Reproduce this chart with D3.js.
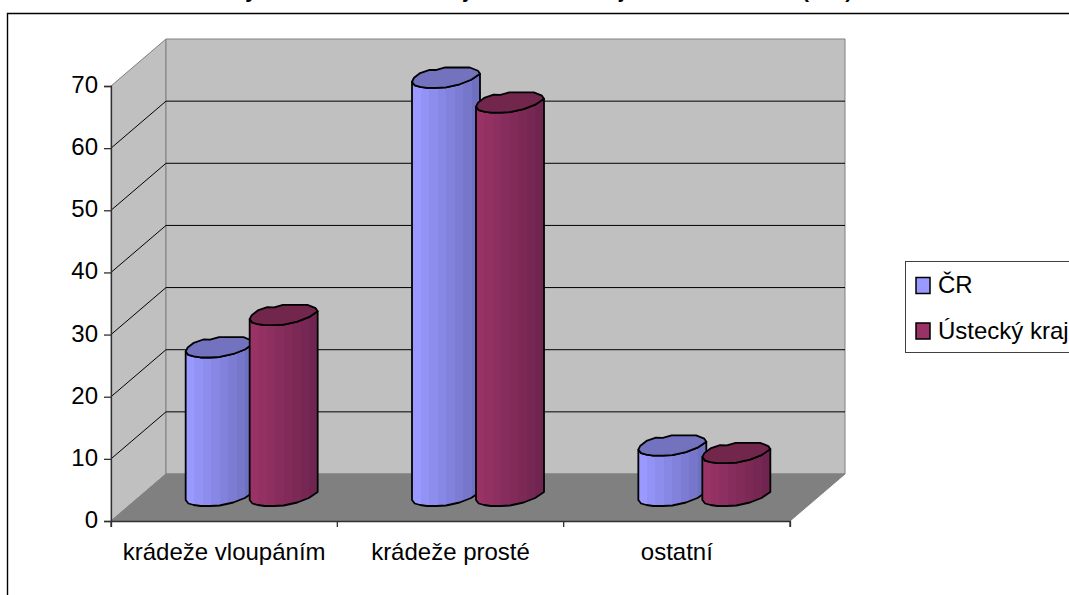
<!DOCTYPE html>
<html><head><meta charset="utf-8">
<script src="https://cdn.jsdelivr.net/npm/d3@7"></script>
<style>html,body{margin:0;padding:0;background:#fff;overflow:hidden}svg{display:block}text{font-family:"Liberation Sans",Arial,sans-serif;fill:#000}</style>
</head><body><svg id="c" width="1069" height="595"></svg>
<script>
const categories = ["krádeže vloupáním", "krádeže prosté", "ostatní"];
const seriesNames = ["ČR", "Ústecký kraj"];
const valuesCR = [23.9, 67.3, 8.1];
const valuesUK = [29.1, 63.3, 6.9];
const yTicks = [0, 10, 20, 30, 40, 50, 60, 70];
const colors = [
  {light: "#9999FF", dark: "#7070C2", top: "#7272BF"},
  {light: "#993366", dark: "#702550", top: "#72264C"}
];

const svg = d3.select("#c");
const depthX = 55, depthY = 47;
const x = d3.scaleBand().domain(categories).range([111, 790]);
const y = d3.scaleLinear().domain([0, 70]).range([521, 86]);
const barW = 68;

// frame
svg.append("path").attr("d", "M7.5,595V13.5H1069").attr("fill", "none").attr("stroke", "#000").attr("stroke-width", 1.4);

// clipped title: only the descenders show above the frame in the reference
const title = svg.append("text").attr("y", -2).attr("font-size", 21).attr("font-weight", "bold");
title.append("tspan").attr("x", 194).text("Podíly krádeží a ostatní majetkové");
title.append("tspan").attr("x", 570).text("v kraji");
title.append("tspan").attr("x", 660).text("a ČR");
title.append("tspan").attr("x", 802).text("(v %)");

// walls
const bk = v => y(v) - depthY;
const poly = pts => "M" + pts.map(p => p.join(",")).join("L") + "Z";
svg.append("path").attr("d", poly([[111, y(0)], [111 + depthX, bk(0)], [111 + depthX, bk(70)], [111, y(70)]]))
  .attr("fill", "#C0C0C0").attr("stroke", "#808080");
svg.append("path").attr("d", poly([[111 + depthX, bk(0)], [790 + depthX, bk(0)], [790 + depthX, bk(70)], [111 + depthX, bk(70)]]))
  .attr("fill", "#C0C0C0").attr("stroke", "#808080");
svg.append("path").attr("d", poly([[111, y(0)], [790, y(0)], [790 + depthX, bk(0)], [111 + depthX, bk(0)]]))
  .attr("fill", "#808080").attr("stroke", "#808080");

// gridlines
const grid = svg.append("g").attr("fill", "none").attr("stroke", "#000").attr("stroke-width", 1);
yTicks.slice(1, -1).forEach(t => {
  grid.append("path").attr("d", `M111,${y(t)}L${111 + depthX},${bk(t)}H${790 + depthX}`);
});

// bars
const front = [[0,3],[.04,6.5],[.12,8],[.22,9],[.36,9],[.5,8.5],[.7,5.5],[.87,1],[1,-5]];
const back = [[1,-5],[.97,-8],[.85,-11.3],[.49,-11.3],[.36,-8.8],[.26,-9],[.12,-5.7],[.03,-1],[0,3]];
const line = d3.line();
const defs = svg.append("defs");
const bands = 8;
colors.forEach((c, i) => {
  const g = defs.append("linearGradient").attr("id", "g" + i);
  const col = d3.interpolateRgb(c.light, c.dark);
  d3.range(bands).forEach(k => {
    g.append("stop").attr("offset", k / bands).attr("stop-color", col(k / (bands - 1)));
    g.append("stop").attr("offset", (k + 1) / bands).attr("stop-color", col(k / (bands - 1)));
  });
});
const baseY = y(0) - depthY / 2 - .5;
categories.forEach((cat, ci) => {
  [valuesCR[ci], valuesUK[ci]].forEach((v, si) => {
    const x0 = x(cat) + x.bandwidth() / 2 + depthX / 2 + (si === 0 ? -66 : -2);
    const topY = y(v) - depthY / 2 - .5;
    const pt = cy => ([f, o]) => [x0 + f * barW, cy + o];
    const frontTop = front.map(pt(topY)), backTop = back.map(pt(topY));
    const frontBot = front.map(pt(baseY)).reverse();
    const body = line(frontTop) + "L" + line(frontBot).slice(1) + "Z";
    svg.append("path").attr("d", body).attr("fill", `url(#g${si})`).attr("stroke", "#000").attr("stroke-width", 1.8).attr("stroke-linejoin", "round");
    svg.append("path").attr("d", line(frontTop) + "L" + line(backTop).slice(1) + "Z")
      .attr("fill", colors[si].top).attr("stroke", "#000").attr("stroke-width", 1.8).attr("stroke-linejoin", "round");
  });
});

// axes
const axL = svg.append("g").attr("transform", "translate(111,0)")
  .call(d3.axisLeft(y).tickValues(yTicks).tickSize(7).tickPadding(6));
const axB = svg.append("g").attr("transform", `translate(0,${y(0)})`)
  .call(d3.axisBottom(x).tickSize(6).tickPadding(16));
axB.selectAll(".tick line").attr("x1", x.bandwidth() / 2).attr("x2", x.bandwidth() / 2);
axB.append("line").attr("x1", 111).attr("x2", 111).attr("y1", 0).attr("y2", 6).attr("stroke", "#000");
[axL, axB].forEach(a => {
  a.selectAll("text").attr("font-size", 24).attr("font-family", '"Liberation Sans",Arial,sans-serif').attr("fill", "#000");
  a.selectAll("line,path").attr("stroke", "#303030").attr("stroke-width", 1.3);
});
axL.selectAll("text").attr("dy", "0.27em");

// legend
const lg = svg.append("g");
lg.append("rect").attr("x", 905.5).attr("y", 261.5).attr("width", 170).attr("height", 91).attr("fill", "#fff").attr("stroke", "#404040").attr("stroke-width", 1);
seriesNames.forEach((n, i) => {
  const ly = 285 + i * 45.5;
  lg.append("rect").attr("x", 916).attr("y", ly - 7.5).attr("width", 14).attr("height", 16).attr("fill", colors[i].light).attr("stroke", "#000").attr("stroke-width", 1.5);
  lg.append("text").attr("x", 938).attr("y", ly + 8).attr("font-size", 24).text(n);
});
</script></body></html>
